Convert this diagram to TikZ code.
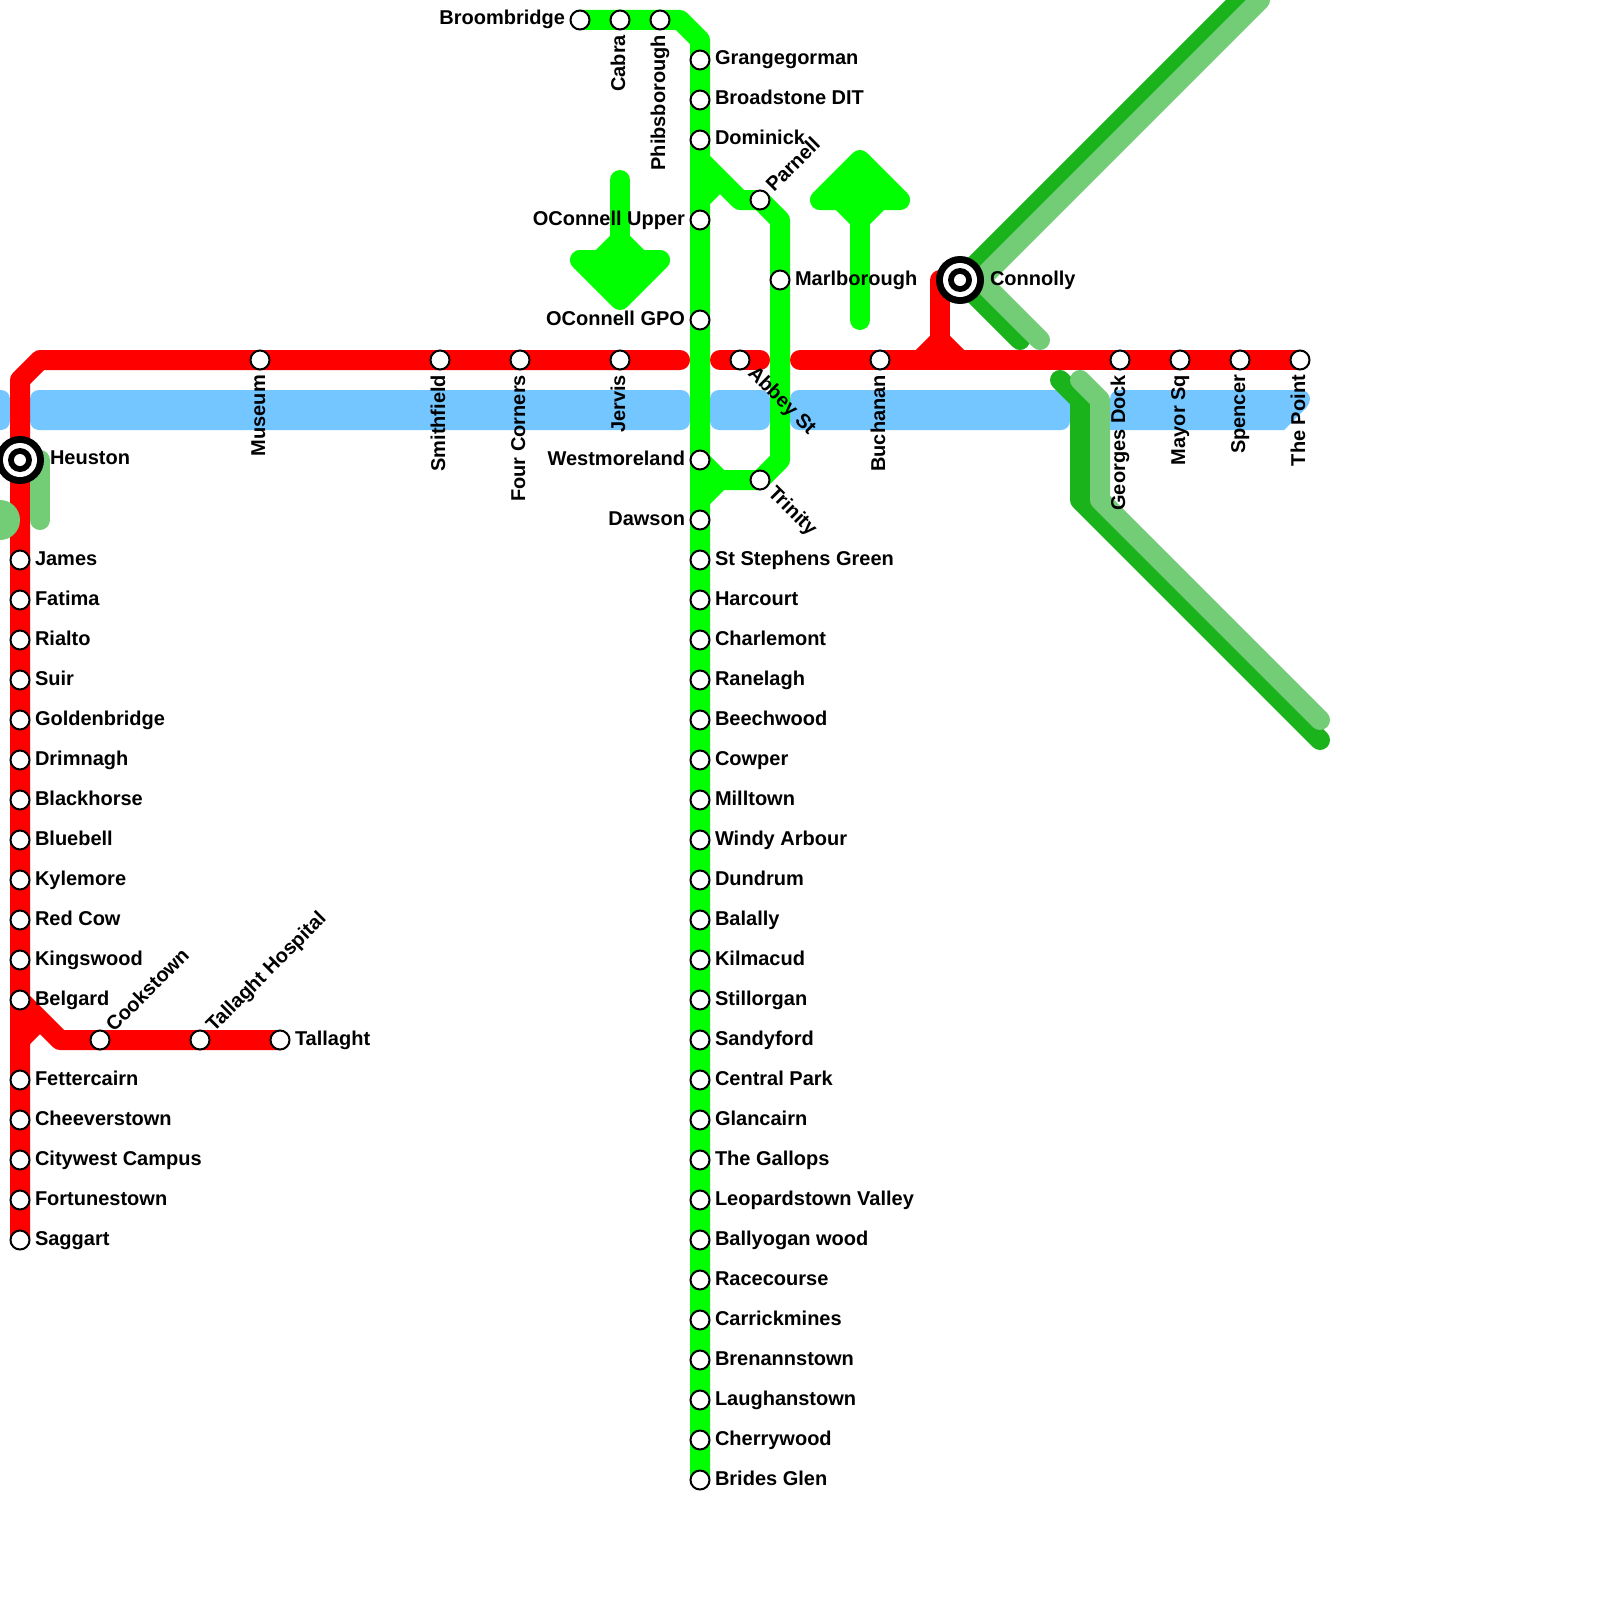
\documentclass[tikz,border=0pt]{standalone}
\usepackage{fontspec}
\setmainfont{Liberation Sans}
\usetikzlibrary{backgrounds}
\definecolor{tramred}{HTML}{FF0000}
\definecolor{tramgreen}{HTML}{00FF00}
\definecolor{railblue}{HTML}{73C6FF}
\definecolor{raildark}{HTML}{1BB31B}
\definecolor{raillight}{HTML}{73CC76}
\tikzset{
  stn/.style={circle,draw=black,fill=white,line width=2pt,minimum size=19pt,inner sep=0pt,outer sep=0pt},
  hub/.style={circle,fill=black,minimum size=48pt,inner sep=0pt,outer sep=0pt},
  lbl/.style={inner sep=0pt,outer sep=0pt,text=black,font=\fontsize{20}{24}\selectfont\bfseries},
  lblR/.style={lbl,anchor=base west},
  lblL/.style={lbl,anchor=base east},
  lblD/.style={lbl,anchor=base east,rotate=90},
  lblNE/.style={lbl,anchor=base west,rotate=45},
  lblSE/.style={lbl,anchor=base west,rotate=-45},
  track/.style={line width=20pt,line join=round,line cap=round},
  redline/.style={track,draw=tramred},
  greenline/.style={track,draw=tramgreen},
  darkline/.style={track,draw=raildark},
  lightline/.style={track,draw=raillight},
  band/.style={fill=railblue,rounded corners=9pt},
}
\begin{document}
\begin{tikzpicture}[x=1pt,y=-1pt]
\useasboundingbox (0,0) rectangle (1600,1600);
\clip (0,0) rectangle (1600,1600);
% hubs
\node[hub] (connolly) at (960,280) {};
\node[hub] (heuston) at (20,460) {};
\foreach \h in {connolly,heuston}{
  \fill[white] (\h.center) circle (17pt);
  \fill[black] (\h.center) circle (12pt);
  \fill[white] (\h.center) circle (6pt);
}
\node[lblR] (connolly-l) at ([shift={(30,5)}]connolly.center) {Connolly};
\node[lblR] (heuston-l) at ([shift={(30,4.6)}]heuston.center) {Heuston};
% green line, right labels
\foreach \n/\x/\y/\t in {
  grangegorman/700/60/Grangegorman, broadstone/700/100/Broadstone DIT, dominick/700/140/Dominick,
  stephens/700/560/St Stephens Green, harcourt/700/600/Harcourt, charlemont/700/640/Charlemont,
  ranelagh/700/680/Ranelagh, beechwood/700/720/Beechwood, cowper/700/760/Cowper,
  milltown/700/800/Milltown, windy/700/840/Windy Arbour, dundrum/700/880/Dundrum,
  balally/700/920/Balally, kilmacud/700/960/Kilmacud, stillorgan/700/1000/Stillorgan,
  sandyford/700/1040/Sandyford, central/700/1080/Central Park, glencairn/700/1120/Glancairn,
  gallops/700/1160/The Gallops, leopardstown/700/1200/Leopardstown Valley,
  ballyogan/700/1240/Ballyogan wood, racecourse/700/1280/Racecourse,
  carrickmines/700/1320/Carrickmines, brenanstown/700/1360/Brenannstown,
  laughanstown/700/1400/Laughanstown, cherrywood/700/1440/Cherrywood, brides/700/1480/Brides Glen,
  marlborough/780/280/Marlborough,
  james/20/560/James, fatima/20/600/Fatima, rialto/20/640/Rialto, suir/20/680/Suir,
  goldenbridge/20/720/Goldenbridge, drimnagh/20/760/Drimnagh, blackhorse/20/800/Blackhorse,
  bluebell/20/840/Bluebell, kylemore/20/880/Kylemore, redcow/20/920/Red Cow,
  kingswood/20/960/Kingswood, belgard/20/1000/Belgard, fettercairn/20/1080/Fettercairn,
  cheeverstown/20/1120/Cheeverstown, citywest/20/1160/Citywest Campus,
  fortunestown/20/1200/Fortunestown, saggart/20/1240/Saggart, tallaght/280/1040/Tallaght}{
  \node[stn] (\n) at (\x,\y) {};
  \node[lblR] (\n-l) at ([shift={(15,5)}]\n.center) {\t};
}
% left labels
\foreach \n/\x/\y/\t in {
  broombridge/580/20/Broombridge, oconnellu/700/220/OConnell Upper, oconnellg/700/320/OConnell GPO,
  westmoreland/700/460/Westmoreland, dawson/700/520/Dawson}{
  \node[stn] (\n) at (\x,\y) {};
  \node[lblL] (\n-l) at ([shift={(-15,5)}]\n.center) {\t};
}
% vertical labels
\foreach \n/\x/\y/\t in {
  cabra/620/20/Cabra, phibsborough/660/20/Phibsborough, museum/260/360/Museum,
  smithfield/440/360/Smithfield, fourcorners/520/360/Four Corners, jervis/620/360/Jervis,
  buchanan/880/360/Buchanan, georges/1120/360/Georges Dock, mayor/1180/360/Mayor Sq,
  spencer/1240/360/Spencer, thepoint/1300/360/The Point}{
  \node[stn] (\n) at (\x,\y) {};
  \node[lblD] (\n-l) at ([shift={(5,15)}]\n.center) {\t};
}
% diagonal labels
\foreach \n/\x/\y/\t in {
  parnell/760/200/Parnell, cookstown/100/1040/Cookstown, hospital/200/1040/Tallaght Hospital}{
  \node[stn] (\n) at (\x,\y) {};
  \node[lblNE] (\n-l) at ([shift={(14.1,-7.1)}]\n.center) {\t};
}
\foreach \n/\x/\y/\t in {abbey/740/360/Abbey St, trinity/760/480/Trinity}{
  \node[stn] (\n) at (\x,\y) {};
  \node[lblSE] (\n-l) at ([shift={(7.1,14.1)}]\n.center) {\t};
}
% free ends and bends
\coordinate (redA) at (680,360);
\coordinate (redB) at (720,360);
\coordinate (redC) at (760,360);
\coordinate (redD) at (800,360);
\begin{scope}[on background layer]
  % blue band
  \fill[band] (-40,390) rectangle (10,430);
  \fill[band] (30,390) rectangle (690,430);
  \fill[band] (710,390) rectangle (770,430);
  \fill[band] (790,390) rectangle (1070,430);
  \fill[band] (1110,430) -- (1110,390) -- (1310,390) [rounded corners=6pt] -- (1310,404) [sharp corners] -- (1284,430) -- cycle;
  % mainline greens
  \draw[darkline] (connolly.center) -- (1240,0);
  \draw[lightline] (980,280) -- (1260,0);
  \draw[darkline] (connolly.center) -- (1020,340);
  \draw[lightline] (980,280) -- (1040,340);
  \draw[darkline] (1060,380) -- (1080,400) -- (1080,500) -- (1320,740);
  \draw[lightline] (1080,380) -- (1100,400) -- (1100,500) -- (1320,720);
  % tram green
  \draw[greenline,line cap=butt] (broombridge.center) -- (680,20) -- (700,40) -- (brides.center);
  \draw[greenline,line cap=butt] (700,160) -- (740,200) -- (parnell.center) -- (780,220)
     -- (marlborough.center) -- (780,460) -- (trinity.center) -- (720,480) -- (westmoreland.center);
  \draw[greenline,line cap=butt] (700,200) -- (720,180);
  \draw[greenline,line cap=butt] (700,500) -- (720,480);
  \draw[greenline] (620,180) -- (620,240);
  \path[greenline,fill=tramgreen] (620,240) -- (600,260) -- (580,260) -- (620,300) -- (660,260) -- (640,260) -- cycle;
  \draw[greenline] (860,320) -- (860,220);
  \path[greenline,fill=tramgreen] (860,220) -- (840,200) -- (820,200) -- (860,160) -- (900,200) -- (880,200) -- cycle;
  % red
  \draw[redline] (saggart.center) -- (20,380) -- (40,360) -- (redA);
  \draw[redline] (redB) -- (redC);
  \draw[redline] (redD) -- (thepoint.center);
  \draw[redline] (940,280) -- (940,340);
  \draw[redline,line cap=butt] (920,360) -- (940,340) -- (960,360);
  \draw[redline,line cap=butt] (belgard.center) -- (60,1040) -- (tallaght.center);
  \draw[redline,line cap=butt] (20,1040) -- (40,1020);
  % green drawn over the red beside Heuston
  \fill[raillight] (0,520) circle (20pt);
  \draw[lightline] (40,460) -- (40,520);
\end{scope}
\end{tikzpicture}
\end{document}
